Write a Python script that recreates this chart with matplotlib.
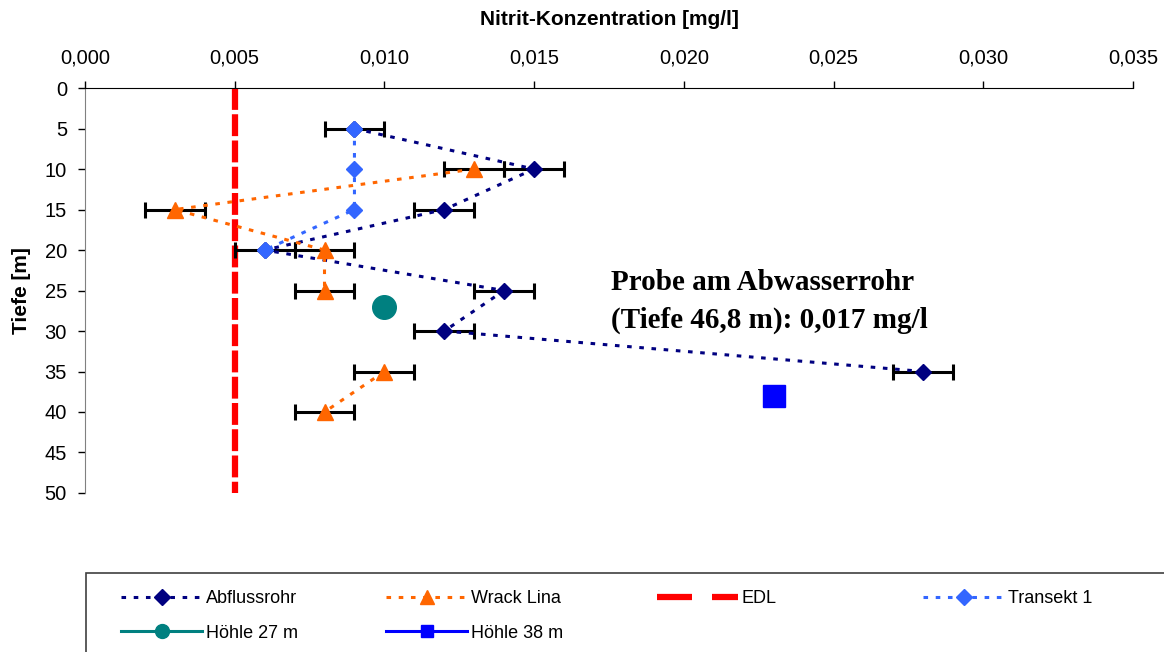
import numpy as np
import matplotlib.pyplot as plt
from matplotlib.lines import Line2D
from matplotlib.patches import Rectangle
from matplotlib.ticker import FuncFormatter

plt.rcParams['font.family'] = ['Liberation Sans', 'DejaVu Sans']

# Abflussrohr
abf_tiefe = [5, 10, 15, 20, 25, 30, 35]
abf_konz = [0.009, 0.015, 0.012, 0.006, 0.014, 0.012, 0.028]
abf_fehler = [0.001, 0.001, 0.001, 0.001, 0.001, 0.001, 0.001]

# Wrack Lina (kein Wert bei 30 m)
wrack_tiefe = [10, 15, 20, 25, 30, 35, 40]
wrack_konz = [0.013, 0.003, 0.008, 0.008, np.nan, 0.010, 0.008]
wrack_fehler = [0.001, 0.001, 0.001, 0.001, 0.0, 0.001, 0.001]

# Transekt 1
tran_tiefe = [5, 10, 15, 20]
tran_konz = [0.009, 0.009, 0.009, 0.006]

# Einzelproben
hoehle27 = (0.010, 27)
hoehle38 = (0.023, 38)

edl = 0.005
edl_tiefe = [0, 50]

c_abf, c_wrack, c_edl = '#000080', '#ff6600', '#ff0000'
c_tran, c_h27, c_h38 = '#3366ff', '#008080', '#0000ff'
dot = (0, (1.5, 2.5))

fig = plt.figure(figsize=(11.64, 6.52), dpi=100)
ax = fig.add_axes([0.073, 0.2439, 0.9003, 0.621])

ebkw = dict(fmt='none', ecolor='black', elinewidth=2.2, capsize=6, capthick=2.2, zorder=2)
ax.errorbar(abf_konz, abf_tiefe, xerr=abf_fehler, **ebkw)
ax.errorbar(wrack_konz, wrack_tiefe, xerr=wrack_fehler, **ebkw)

ax.plot(abf_konz, abf_tiefe, color=c_abf, ls=dot, lw=2.2, marker='D', ms=8, zorder=3)
ax.plot(wrack_konz, wrack_tiefe, color=c_wrack, ls=dot, lw=2.2, marker='^', ms=11, zorder=3)
ax.plot([edl, edl], edl_tiefe, color=c_edl, ls=(0, (3.5, 0.7)), lw=4.5, zorder=1)
ax.plot(tran_konz, tran_tiefe, color=c_tran, ls=dot, lw=2.2, marker='D', ms=8, zorder=4)
ax.plot([hoehle27[0]], [hoehle27[1]], color=c_h27, marker='o', ms=17, ls='none', zorder=4)
ax.plot([hoehle38[0]], [hoehle38[1]], color=c_h38, marker='s', ms=16, ls='none', zorder=4)

ax.set_xlim(0, 0.035)
ax.set_ylim(50, 0)
ax.set_xticks(np.arange(0, 0.0351, 0.005))
ax.set_yticks(np.arange(0, 51, 5))
ax.xaxis.set_major_formatter(FuncFormatter(lambda v, p: f'{v:.3f}'.replace('.', ',')))
ax.xaxis.tick_top()
ax.xaxis.set_label_position('top')
ax.tick_params(axis='both', labelsize=14.5, direction='out', length=5, width=1, colors='black')
ax.tick_params(axis='x', pad=10)
ax.tick_params(axis='y', pad=8)
ax.spines['right'].set_visible(False)
ax.spines['bottom'].set_visible(False)
ax.spines['left'].set_color('#808080')
ax.set_xlabel('Nitrit-Konzentration [mg/l]', fontsize=15, fontweight='bold', labelpad=17)
ax.set_ylabel('Tiefe [m]', fontsize=15, fontweight='bold', labelpad=10)

ax.text(0.01757, 22.4, 'Probe am Abwasserrohr\n(Tiefe 46,8 m): 0,017 mg/l',
        family='Liberation Serif', fontweight='bold', fontsize=21,
        linespacing=1.5, va='top', ha='left')

# Legende: Rahmen + vier Spalten
fig.patches.append(Rectangle((86 / 1164, -0.1), 1.0, 1 - 573 / 652 + 0.1,
                             transform=fig.transFigure, fill=False,
                             edgecolor='#404040', lw=1.2))

h_abf = Line2D([], [], color=c_abf, ls=dot, lw=2.2, marker='D', ms=8)
h_wrack = Line2D([], [], color=c_wrack, ls=dot, lw=2.2, marker='^', ms=10)
h_edl = Line2D([], [], color=c_edl, ls=(0, (5.6, 3.2)), lw=4.5)
h_tran = Line2D([], [], color=c_tran, ls=dot, lw=2.2, marker='D', ms=8)
h_h27 = Line2D([], [], color=c_h27, ls='-', lw=2.2, marker='o', ms=10)
h_h38 = Line2D([], [], color=c_h38, ls='-', lw=2.2, marker='s', ms=9)

spalten = [
    (121, [h_abf, h_h27], ['Abflussrohr', 'Höhle 27 m']),
    (386, [h_wrack, h_h38], ['Wrack Lina', 'Höhle 38 m']),
    (657, [h_edl], ['EDL']),
    (923, [h_tran], ['Transekt 1']),
]
for xpx, hs, labs in spalten:
    fig.legend(hs, labs, loc='upper left', bbox_to_anchor=(xpx / 1164, 1 - 590 / 652),
               frameon=False, fontsize=13, borderpad=0, borderaxespad=0,
               handlelength=4.5, handletextpad=0.2, labelspacing=0.97)

fig.savefig('out.png', dpi=100)
